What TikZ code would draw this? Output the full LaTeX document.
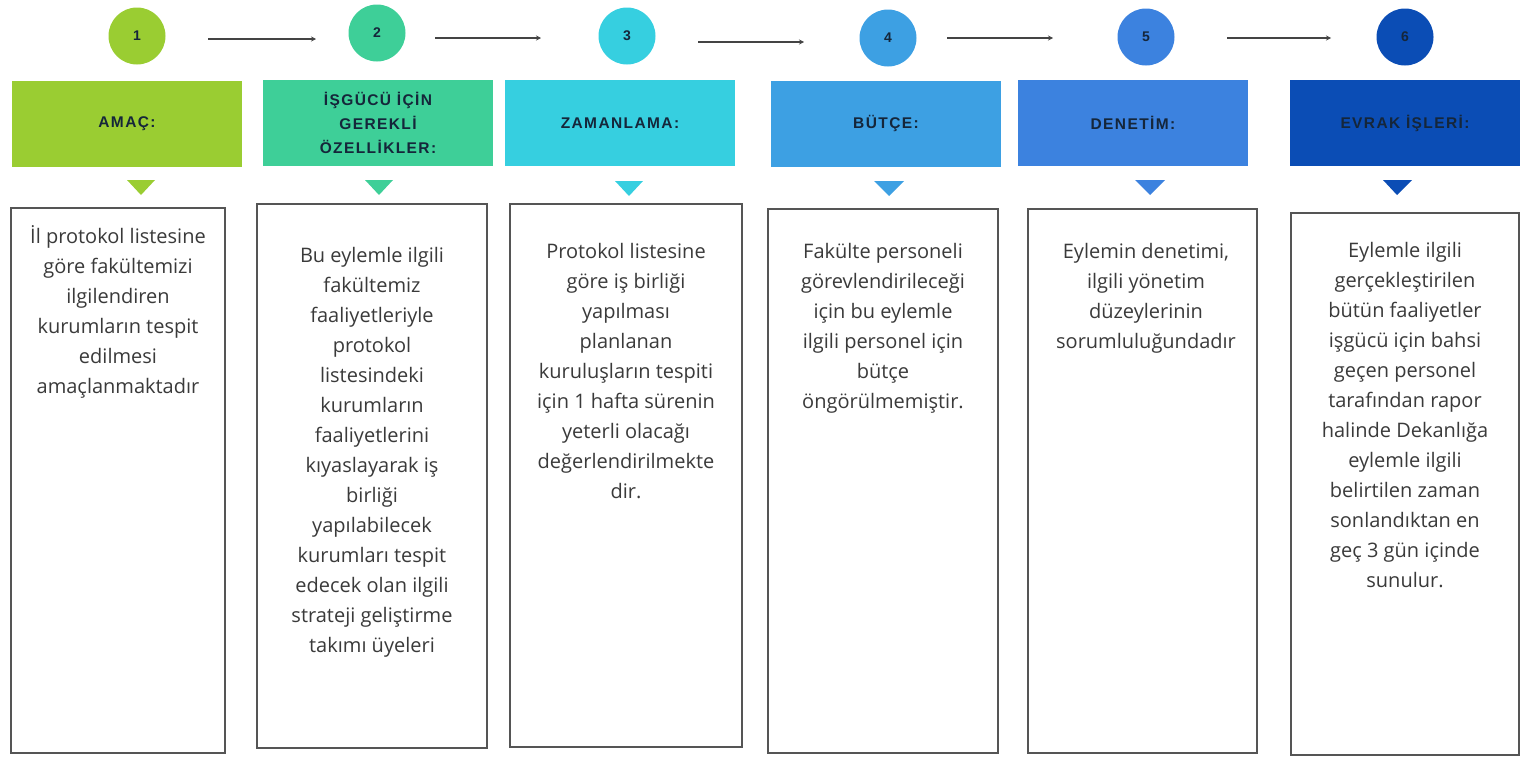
\documentclass[tikz,border=0pt]{standalone}
\usepackage{fontspec}
\setmainfont{Open Sans}
\newfontfamily\headfont[LetterSpace=9]{Liberation Sans Bold}
\newfontfamily\numfont{Liberation Sans Bold}
\usetikzlibrary{arrows.meta}
\definecolor{cA}{HTML}{9ACD32}
\definecolor{cB}{HTML}{3ECF98}
\definecolor{cC}{HTML}{36CFE0}
\definecolor{cD}{HTML}{3DA0E3}
\definecolor{cE}{HTML}{3C82DF}
\definecolor{cF}{HTML}{0B4DB5}
\definecolor{bodytxt}{HTML}{3A3A3A}
\definecolor{headtxt}{HTML}{15263A}
\definecolor{boxline}{HTML}{555555}
\definecolor{arrline}{HTML}{444444}
\tikzset{
  numcirc/.style={circle, minimum size=57pt, inner sep=0pt, font=\numfont\fontsize{14}{14}\selectfont, text=headtxt},
  headbox/.style={rectangle, minimum width=230pt, minimum height=86pt, inner sep=0pt, align=center, font=\headfont\fontsize{15.5}{24}\selectfont, text=headtxt},
  textbox/.style={rectangle, draw=boxline, line width=1.4pt, fill=white, inner sep=0pt},
  bodytext/.style={anchor=north, inner sep=0pt, align=center, text=bodytxt, font=\fontsize{20}{30}\selectfont},
  arr/.style={draw=arrline, line width=1.4pt, -{Stealth[length=5pt,width=5pt]}}
}
\begin{document}
\begin{tikzpicture}[x=1pt,y=-1pt]
\useasboundingbox (0,0) rectangle (1524,758);
% circles
\node[numcirc, fill=cA] (c1) at (137,36) {1};
\node[numcirc, fill=cB] (c2) at (377,33) {2};
\node[numcirc, fill=cC] (c3) at (627,36) {3};
\node[numcirc, fill=cD] (c4) at (888,38) {4};
\node[numcirc, fill=cE] (c5) at (1146,37) {5};
\node[numcirc, fill=cF] (c6) at (1405,37) {6};
% arrows
\coordinate (a1s) at (208,39); \coordinate (a1e) at (316,39);
\coordinate (a2s) at (435,38); \coordinate (a2e) at (541,38);
\coordinate (a3s) at (698,42); \coordinate (a3e) at (804,42);
\coordinate (a4s) at (947,38); \coordinate (a4e) at (1053,38);
\coordinate (a5s) at (1227,38); \coordinate (a5e) at (1331,38);
\draw[arr] (a1s) -- (a1e);
\draw[arr] (a2s) -- (a2e);
\draw[arr] (a3s) -- (a3e);
\draw[arr] (a4s) -- (a4e);
\draw[arr] (a5s) -- (a5e);
% headers
\node[headbox, fill=cA] (h1) at (127,123.5) {AMAÇ:};
\node[headbox, fill=cB] (h2) at (378,123) {İŞGÜCÜ İÇİN\\GEREKLİ\\ÖZELLİKLER:};
\node[headbox, fill=cC] (h3) at (620,123) {ZAMANLAMA:};
\node[headbox, fill=cD] (h4) at (886,123.5) {BÜTÇE:};
\node[headbox, fill=cE] (h5) at (1133,123) {DENETİM:};
\node[headbox, fill=cF] (h6) at (1405,123) {EVRAK İŞLERİ:};
% triangles
\fill[cA] (127,180) -- (155,180) -- (141,195) -- cycle;
\fill[cB] (365,180) -- (393,180) -- (379,195) -- cycle;
\fill[cC] (615,181) -- (643,181) -- (629,196) -- cycle;
\fill[cD] (874,181) -- (904,181) -- (889,196) -- cycle;
\fill[cE] (1135,180) -- (1165,180) -- (1150,195) -- cycle;
\fill[cF] (1383,180) -- (1412,180) -- (1397,195) -- cycle;
% text boxes
\draw[textbox] (11,208) rectangle (225,753);
\draw[textbox] (257,204) rectangle (487,748);
\draw[textbox] (510,204) rectangle (742,747);
\draw[textbox] (768,209) rectangle (998,753);
\draw[textbox] (1028,209) rectangle (1257,753);
\draw[textbox] (1291,213) rectangle (1519,755);
% texts
\node[bodytext] (t1) at (118,222) {\strut İl protokol listesine\\göre fakültemizi\\ilgilendiren\\kurumların tespit\\edilmesi\\amaçlanmaktadır};
\node[bodytext] (t2) at (372,241) {\strut Bu eylemle ilgili\\fakültemiz\\faaliyetleriyle\\protokol\\listesindeki\\kurumların\\faaliyetlerini\\kıyaslayarak iş\\birliği\\yapılabilecek\\kurumları tespit\\edecek olan ilgili\\strateji geliştirme\\takımı üyeleri};
\node[bodytext] (t3) at (626,237) {\strut Protokol listesine\\göre iş birliği\\yapılması\\planlanan\\kuruluşların tespiti\\için 1 hafta sürenin\\yeterli olacağı\\değerlendirilmekte\\dir.};
\node[bodytext] (t4) at (883,237) {\strut Fakülte personeli\\görevlendirileceği\\için bu eylemle\\ilgili personel için\\bütçe\\öngörülmemiştir.};
\node[bodytext] (t5) at (1146,237) {\strut Eylemin denetimi,\\ilgili yönetim\\düzeylerinin\\sorumluluğundadır};
\node[bodytext] (t6) at (1405,236) {\strut Eylemle ilgili\\gerçekleştirilen\\bütün faaliyetler\\işgücü için bahsi\\geçen personel\\tarafından rapor\\halinde Dekanlığa\\eylemle ilgili\\belirtilen zaman\\sonlandıktan en\\geç 3 gün içinde\\sunulur.};
\end{tikzpicture}
\end{document}
